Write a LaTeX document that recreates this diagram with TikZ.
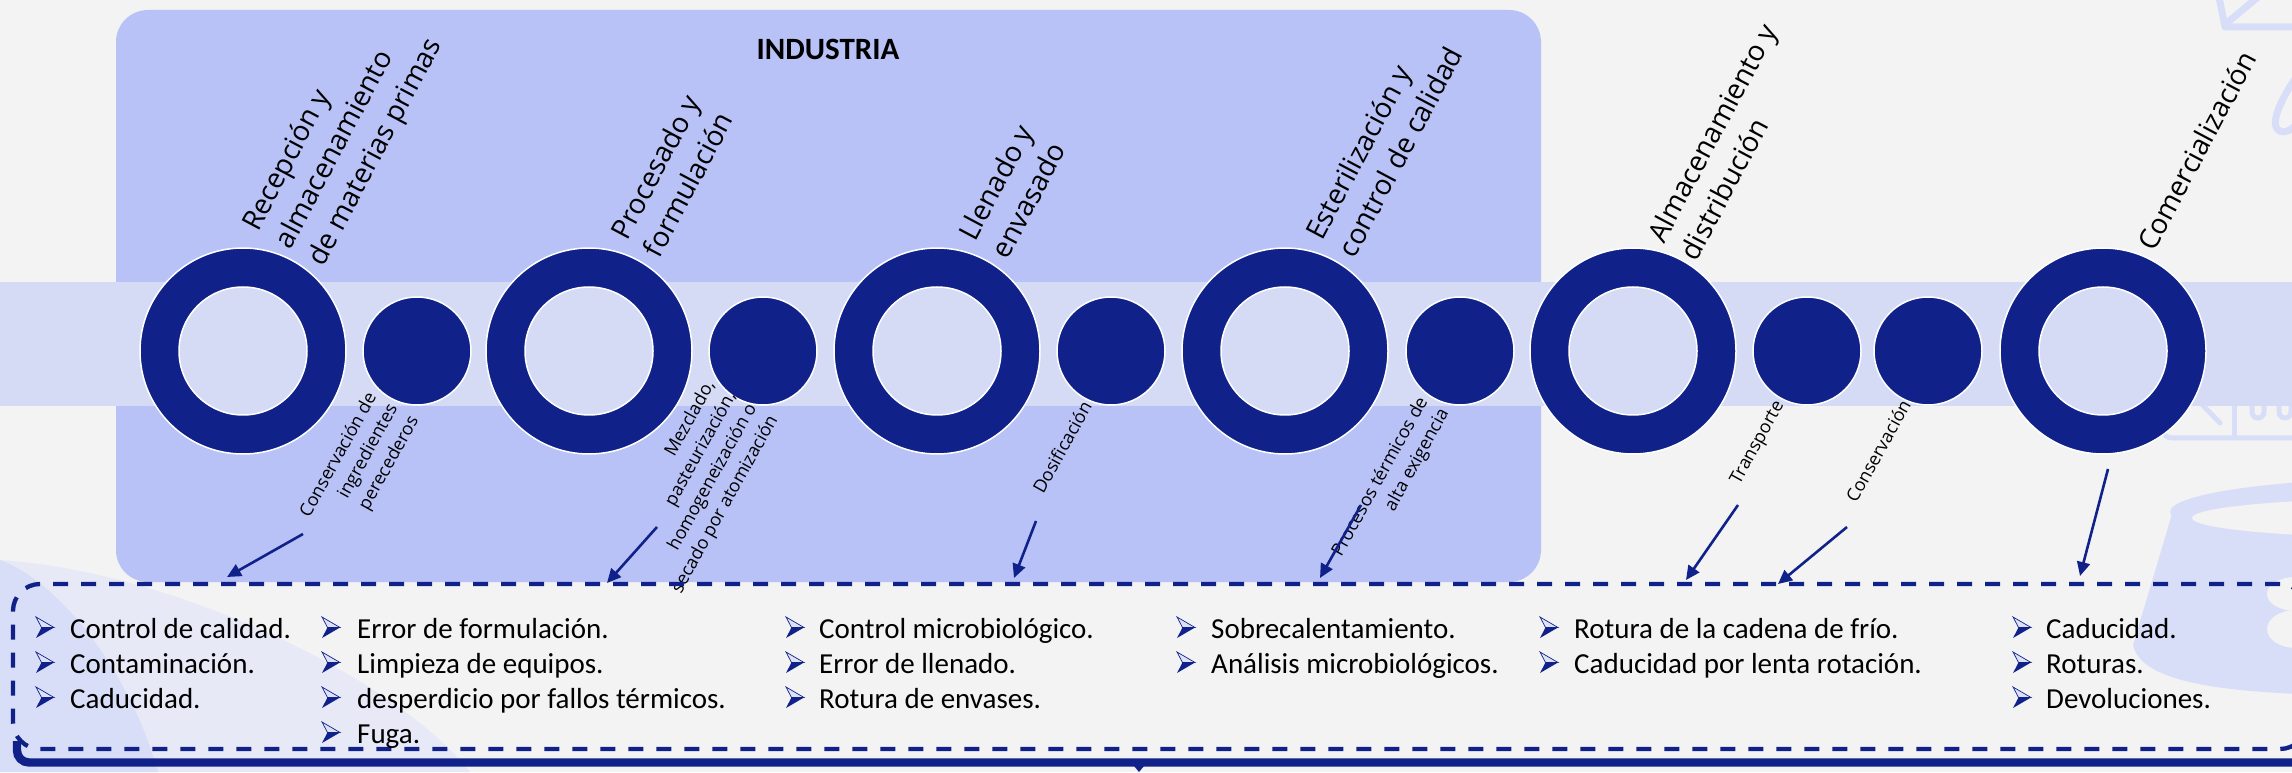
\documentclass[tikz,border=0pt]{standalone}
\usepackage{fontspec}
\setmainfont{Carlito}
\newfontfamily\osans{Open Sans}
\usetikzlibrary{arrows.meta}
\definecolor{bgc}{HTML}{F3F3F3}
\definecolor{indus}{HTML}{B8C2F6}
\definecolor{band}{HTML}{D5DAF5}
\definecolor{dkblue}{HTML}{10228A}
\definecolor{deco}{HTML}{D9DEF8}
\definecolor{decolight}{HTML}{E7E9F6}
\definecolor{bullight}{HTML}{DDE1F5}
\tikzset{
  bigring/.style={circle, fill=dkblue, draw=white, line width=1.5pt, minimum size=206pt, inner sep=0pt},
  ringhole/.style={circle, fill=band, draw=white, line width=1.5pt, minimum size=128pt, inner sep=0pt},
  smallc/.style={circle, fill=dkblue, draw=white, line width=1.5pt, minimum size=108pt, inner sep=0pt},
  biglab/.style={anchor=base west, inner sep=0pt, font=\osans\fontsize{28}{34}\selectfont},
  smalllab/.style={inner sep=0pt, align=right, rotate=61, font=\osans\fontsize{18}{24}\selectfont},
  itemtxt/.style={anchor=base west, inner sep=0pt, font=\fontsize{29}{35}\selectfont},
  pointer/.style={draw=dkblue, line width=2.6pt, -{Triangle[length=14pt,width=13pt]}},
  dashbox/.style={draw=dkblue, line width=4.3pt, dash pattern=on 15pt off 13pt, rounded corners=27pt, inner sep=0pt},
  decoline/.style={draw=deco, line width=7pt, line cap=round, line join=round},
  bul/.pic={
    \fill[dkblue] (0,-10.5) -- (18,0) -- (5.5,0) -- cycle;
    \filldraw[draw=dkblue, fill=bullight, line width=0.7pt] (0,10.5) -- (18,0) -- (5.5,0) -- cycle;
  }
}
\begin{document}
\begin{tikzpicture}[x=1pt,y=1pt]
\useasboundingbox (0,0) rectangle (2292,772);
\fill[bgc] (0,0) rectangle (2292,772);

% background decorations
\fill[decolight] (0,212) .. controls (180,200) and (400,90) .. (470,0) -- (0,0) -- cycle;
\fill[deco] (0,212) .. controls (60,190) and (130,100) .. (158,0) -- (0,0) -- cycle;
\fill[deco] (2172,258) -- (2133,127) .. controls (2140,95) and (2200,82) .. (2300,78) -- (2300,260) -- cycle;
\fill[deco] (2420,260) ellipse[x radius=250, y radius=34];
\fill[bgc] (2420,254) ellipse[x radius=228, y radius=20];
\fill[bgc] (2296,178) ellipse[x radius=29, y radius=17];
\fill[bgc] (2296,143) ellipse[x radius=29, y radius=19];
\draw[decoline, line width=5pt, rounded corners=10pt] (2162,356) -- (2162,334) -- (2300,334);
\draw[decoline, line width=5pt] (2188,382) -- (2220,349);
\draw[decoline, line width=5pt] (2234,392) -- (2234,336);
\draw[decoline, line width=5pt] (2252,372) -- (2252,360) arc[start angle=180, end angle=360, radius=6] -- (2264,372);
\draw[decoline, line width=5pt] (2279,372) -- (2279,360) arc[start angle=180, end angle=360, radius=6] -- (2291,372);
\draw[decoline] (2219,775) -- (2225,745) -- (2300,745);
\draw[decoline] (2228,750) -- (2258,775);
\draw[decoline] (2300,700) .. controls (2285,680) and (2272,655) .. (2276,645) .. controls (2280,636) and (2292,640) .. (2300,652);

% industria block and band
\fill[indus, rounded corners=32pt] (116,190) rectangle (1541,762);
\fill[band] (0,366) rectangle (2292,490);
\node[anchor=base, inner sep=0pt, font=\bfseries\fontsize{31}{36}\selectfont] (ind) at (828,712) {INDUSTRIA};

% rings
\foreach \x/\n in {243/1, 589/2, 937/3, 1285/4, 1633/5, 2103/6}{
  \node[bigring] (r\n) at (\x,421) {};
  \node[ringhole] (h\n) at (r\n) {};
}
\foreach \x/\n in {417/1, 763/2, 1111/3, 1460/4, 1807/5, 1928/6}{
  \node[smallc] (c\n) at (\x,421) {};
}

% stage labels
\begin{scope}[shift={(258,539)}, rotate=62, transform shape]
  \node[biglab] (l1a) at (0,0) {Recepción y};
  \node[biglab] (l1b) at (0,-37) {almacenamiento};
  \node[biglab] (l1c) at (0,-74) {de materias primas};
\end{scope}
\begin{scope}[shift={(627,530)}, rotate=62, transform shape]
  \node[biglab] (l2a) at (0,0) {Procesado y};
  \node[biglab] (l2b) at (0,-37) {formulación};
\end{scope}
\begin{scope}[shift={(975,529)}, rotate=62, transform shape]
  \node[biglab] (l3a) at (0,0) {Llenado y};
  \node[biglab] (l3b) at (0,-37) {envasado};
\end{scope}
\begin{scope}[shift={(1322,530)}, rotate=62, transform shape]
  \node[biglab] (l4a) at (0,0) {Esterilización y};
  \node[biglab] (l4b) at (0,-37) {control de calidad};
\end{scope}
\begin{scope}[shift={(1664,527)}, rotate=62, transform shape]
  \node[biglab] (l5a) at (0,0) {Almacenamiento y};
  \node[biglab] (l5b) at (0,-37) {distribución};
\end{scope}
\begin{scope}[shift={(2154,519)}, rotate=62, transform shape]
  \node[biglab] (l6a) at (0,0) {Comercialización};
\end{scope}

% process labels
\node[smalllab] (s1) at (360,305) {Conservación de\\ingredientes\\perecederos};
\node[smalllab] (s2) at (694,285) {Mezclado,\\pasteurización,\\homogeneización o\\secado por atomización};
\node[smalllab] (s3) at (1062,325) {Dosificación};
\node[smalllab] (s4) at (1391,289) {Procesos térmicos de\\alta exigencia};
\node[smalllab] (s5) at (1758,329) {Transporte};
\node[smalllab] (s6) at (1878,321) {Conservación};

% dashed box
\node[dashbox, minimum width=2294pt, minimum height=165pt] (box) at (1160,105.5) {};

% arrows
\coordinate (a1s) at (303,238); \coordinate (a1e) at (227,195);
\coordinate (a2s) at (657,245); \coordinate (a2e) at (607,189);
\coordinate (a3s) at (1036,251); \coordinate (a3e) at (1014,194);
\coordinate (a4s) at (1361,267); \coordinate (a4e) at (1320,194);
\coordinate (a5s) at (1738,267); \coordinate (a5e) at (1686,192);
\coordinate (a6s) at (1847,245); \coordinate (a6e) at (1778,188);
\coordinate (a7s) at (2108,303); \coordinate (a7e) at (2080,196);
\foreach \i in {1,...,7}{ \draw[pointer] (a\i s) -- (a\i e); }

% bullets
\foreach \bx/\rows in {36/3, 322/4, 786/3, 1177/2, 1540/2, 2013/3}{
  \foreach \r in {1,...,\rows}{
    \pgfmathsetmacro{\by}{134-35*(\r-1)+10.5}
    \pic at (\bx,\by) {bul};
  }
}
\node[itemtxt] (t11) at (70,134) {Control de calidad.};
\node[itemtxt] (t12) at (70,99) {Contaminación.};
\node[itemtxt] (t13) at (70,64) {Caducidad.};
\node[itemtxt] (t21) at (357,134) {Error de formulación.};
\node[itemtxt] (t22) at (357,99) {Limpieza de equipos.};
\node[itemtxt] (t23) at (357,64) {desperdicio por fallos térmicos.};
\node[itemtxt] (t24) at (357,29) {Fuga.};
\node[itemtxt] (t31) at (819,134) {Control microbiológico.};
\node[itemtxt] (t32) at (819,99) {Error de llenado.};
\node[itemtxt] (t33) at (819,64) {Rotura de envases.};
\node[itemtxt] (t41) at (1211,134) {Sobrecalentamiento.};
\node[itemtxt] (t42) at (1211,99) {Análisis microbiológicos.};
\node[itemtxt] (t51) at (1574,134) {Rotura de la cadena de frío.};
\node[itemtxt] (t52) at (1574,99) {Caducidad por lenta rotación.};
\node[itemtxt] (t61) at (2046,134) {Caducidad.};
\node[itemtxt] (t62) at (2046,99) {Roturas.};
\node[itemtxt] (t63) at (2046,64) {Devoluciones.};

% bottom brace
\draw[dkblue, line width=8.4pt, rounded corners=12pt] (17,31) -- (17,9.5) -- (2310,9.5);
\fill[dkblue] (1129,12) -- (1139,0) -- (1149,12) -- cycle;
\end{tikzpicture}
\end{document}
